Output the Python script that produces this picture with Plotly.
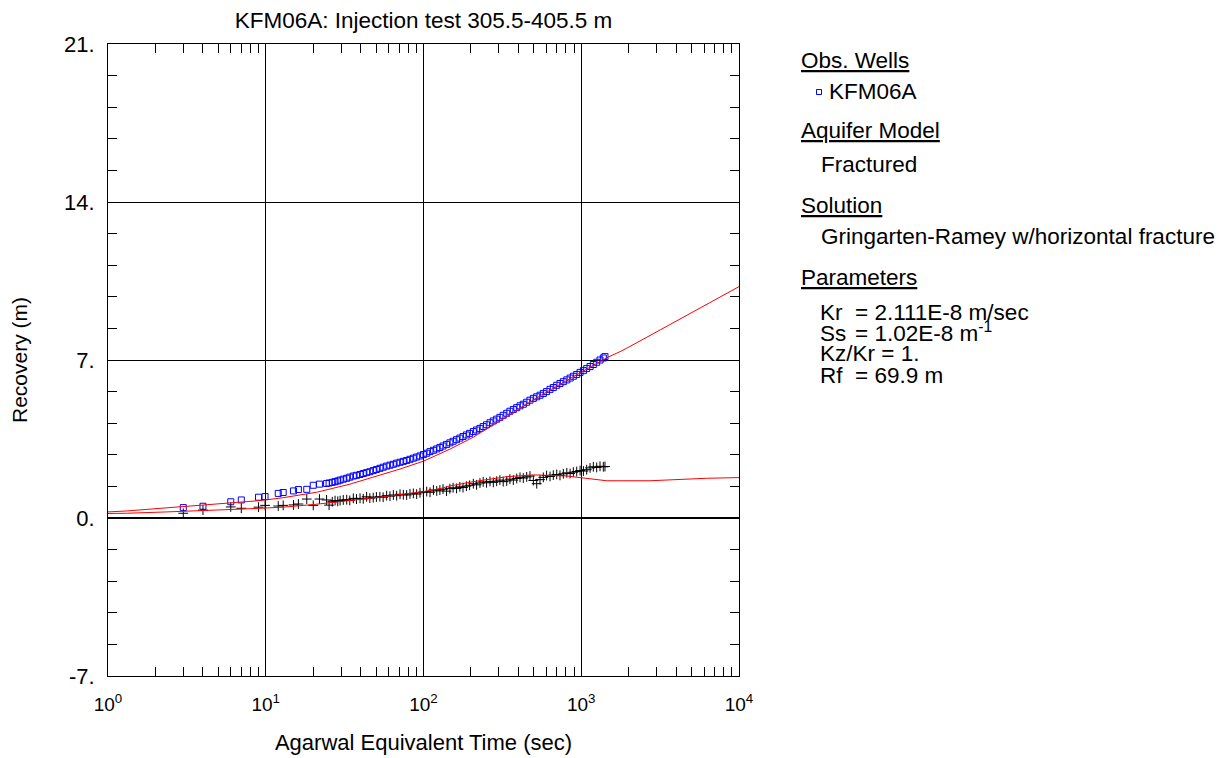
import plotly.graph_objects as go

# ---------------- data ----------------
obs_time = [3.0, 4.0, 6.0, 7.0, 9.0, 9.9, 12.0, 12.9, 15.0, 16.1, 18.2, 20.0, 21.9, 24.3,
            25.2, 26.4, 27.5, 28.6, 29.6, 31.0, 32.6, 34.1, 35.9, 37.6, 39.6, 41.5, 43.6,
            45.7, 48.0, 50.3, 52.9, 55.5, 58.4, 61.3, 64.4, 67.6, 71.0, 74.5, 78.2, 82.1,
            86.2, 90.5, 95.0, 99.8, 104.8, 110.0, 115.6, 121.3, 127, 133, 140, 147, 154,
            162, 170, 178, 187, 196, 207, 217, 228, 239, 251, 264, 277, 291, 305, 320,
            337, 353, 371, 390, 409, 429, 451, 473, 497, 522, 548, 575, 603, 634, 665,
            699, 733, 770, 810, 850, 891, 936, 983, 1032, 1083, 1137, 1193, 1253, 1315,
            1380, 1414]

obs_recovery = [0.46, 0.52, 0.72, 0.80, 0.92, 0.95, 1.09, 1.13, 1.20, 1.26, 1.27, 1.45, 1.50, 1.53,
                1.55, 1.58, 1.61, 1.64, 1.68, 1.72, 1.76, 1.81, 1.86, 1.89, 1.93, 1.97, 2.01,
                2.05, 2.10, 2.15, 2.20, 2.25, 2.30, 2.34, 2.38, 2.43, 2.47, 2.51, 2.55, 2.60,
                2.65, 2.70, 2.75, 2.81, 2.87, 2.94, 3.00, 3.06, 3.12, 3.19, 3.26, 3.33, 3.40,
                3.47, 3.54, 3.61, 3.68, 3.75, 3.83, 3.90, 3.97, 4.05, 4.13, 4.22, 4.30, 4.38,
                4.46, 4.55, 4.64, 4.73, 4.81, 4.89, 4.97, 5.04, 5.13, 5.22, 5.30, 5.37, 5.44,
                5.52, 5.60, 5.70, 5.78, 5.88, 5.96, 6.04, 6.12, 6.20, 6.28, 6.36, 6.45, 6.53,
                6.62, 6.71, 6.80, 6.90, 7.00, 7.09, 7.15]

deriv_recovery = [0.21, 0.35, 0.49, 0.43, 0.48, 0.56, 0.53, 0.56, 0.58, 0.62, 0.84, 0.56, 0.84, 0.80,
                  0.57, 0.72, 0.77, 0.74, 0.77, 0.80, 0.81, 0.78, 0.87, 0.84, 0.87, 0.85, 0.94,
                  0.88, 0.90, 0.93, 0.94, 0.92, 0.99, 0.97, 1.02, 0.99, 1.05, 1.03, 1.02, 1.07,
                  1.09, 1.06, 1.12, 1.15, 1.17, 1.14, 1.24, 1.20, 1.24, 1.28, 1.19, 1.30, 1.34,
                  1.31, 1.38, 1.35, 1.41, 1.45, 1.52, 1.47, 1.55, 1.60, 1.56, 1.62, 1.58, 1.63,
                  1.68, 1.61, 1.64, 1.72, 1.68, 1.75, 1.80, 1.77, 1.82, 1.86, 1.66, 1.52, 1.70,
                  1.80, 1.88, 1.84, 1.90, 1.93, 1.89, 1.96, 2.00, 1.97, 2.03, 2.06, 2.10, 2.08,
                  2.14, 2.22, 2.27, 2.24, 2.29, 2.27, 2.28]

model_time = [1.0, 1.3, 2.36, 3.83, 6.2, 9.2, 12.9, 21, 34.2, 55.6, 71, 100, 127, 147, 207,
              337, 548, 891, 1450, 1762, 1940, 3160, 5400, 10000]
model_recovery = [0.27, 0.31, 0.45, 0.57, 0.68, 0.77, 0.90, 1.14, 1.50, 1.93, 2.17, 2.52, 2.84,
                  3.05, 3.58, 4.50, 5.41, 6.26, 7.10, 7.37, 7.52, 8.33, 9.22, 10.25]

deriv_model_time = [1.0, 1.31, 2.36, 3.83, 6.2, 9.2, 12.9, 21, 34, 55.6, 100, 127, 147, 207, 337,
                    497, 810, 1085, 1450, 1762, 2730, 6240, 10000]
deriv_model_recovery = [0.20, 0.21, 0.27, 0.34, 0.38, 0.43, 0.48, 0.61, 0.77, 0.94, 1.17, 1.30,
                        1.42, 1.61, 1.83, 1.91, 1.86, 1.76, 1.65, 1.65, 1.65, 1.76, 1.79]

x_tick_vals = [1, 10, 100, 1000, 10000]
x_tick_text = ["10<sup>0</sup>", "10<sup>1</sup>", "10<sup>2</sup>", "10<sup>3</sup>", "10<sup>4</sup>"]
y_tick_vals = [-7, 0, 7, 14, 21]
y_tick_text = ["-7.", "0.", "7.", "14.", "21."]

title_text = "KFM06A: Injection test 305.5-405.5 m"
x_title = "Agarwal Equivalent Time (sec)"
y_title = "Recovery (m)"

# ---------------- figure ----------------
FONT = "Liberation Sans, Arial, sans-serif"
fig = go.Figure()

fig.add_trace(go.Scatter(x=obs_time, y=obs_recovery, mode="markers",
                         marker=dict(symbol="square-open", size=6, color="#0000ff",
                                     line=dict(width=1, color="#0000ff")),
                         showlegend=False))
fig.add_trace(go.Scatter(x=obs_time, y=deriv_recovery, mode="markers",
                         marker=dict(symbol="cross-thin", size=7, color="black",
                                     line=dict(width=1, color="black")),
                         showlegend=False))
fig.add_trace(go.Scatter(x=model_time, y=model_recovery, mode="lines",
                         line=dict(color="#ff0000", width=1), showlegend=False))
fig.add_trace(go.Scatter(x=deriv_model_time, y=deriv_model_recovery, mode="lines",
                         line=dict(color="#ff0000", width=1), showlegend=False))

x_minor = [m * 10 ** d for d in range(4) for m in range(2, 10)]
y_minor = [v + k * 1.4 for v in [-7, 0, 7, 14] for k in range(1, 5)]

# page has an 8px body margin: figure placed at (8, 8)
fig.update_layout(
    width=1218, height=750,
    margin=dict(l=100, r=487, t=36, b=82),
    paper_bgcolor="white", plot_bgcolor="white",
    font=dict(family=FONT, size=22, color="black"),
    title=dict(text=title_text, x=(423.5 - 8) / 1218, xanchor="center",
               y=1 - (20 - 8) / 750, yanchor="middle", font=dict(size=22.5)),
    xaxis=dict(type="log", range=[0, 4], tickmode="array", tickvals=x_tick_vals,
               ticktext=x_tick_text, showgrid=True, gridcolor="black", gridwidth=1,
               showline=True, linecolor="black", linewidth=1, mirror="allticks",
               ticks="", tickfont=dict(size=19), ticklabelstandoff=11, automargin=False,
               minor=dict(tickmode="array", tickvals=x_minor, ticks="inside", ticklen=9,
                          tickcolor="black", tickwidth=1, showgrid=False),
               title=dict(text=x_title, font=dict(size=22), standoff=20),
               zeroline=False),
    yaxis=dict(range=[-7, 21], tickmode="array", tickvals=y_tick_vals, ticktext=y_tick_text,
               showgrid=True, gridcolor="black", gridwidth=1, showline=True,
               linecolor="black", linewidth=1, mirror="allticks", ticks="",
               tickfont=dict(size=22), ticklabelstandoff=8, automargin=False,
               minor=dict(tickmode="array", tickvals=y_minor, ticks="inside", ticklen=9,
                          tickcolor="black", tickwidth=1, showgrid=False),
               title=dict(text=y_title, font=dict(size=21), standoff=30),
               zeroline=True, zerolinecolor="black", zerolinewidth=2),
)


def px_x(px):
    return (px - 108) / 631.0


def px_y(py):
    return (676 - py) / 632.0


PANEL_SIZE = 22.5
panel = [
    ("<u>Obs. Wells</u>", 799, 60),
    ("KFM06A", 827, 92),
    ("<u>Aquifer Model</u>", 799, 131),
    ("Fractured", 819, 164),
    ("<u>Solution</u>", 799, 205),
    ("Gringarten-Ramey w/horizontal fracture", 819, 237),
    ("<u>Parameters</u>", 799, 277),
    ("Kr", 818, 312),
    ("= 2.111E-8 m/sec", 853, 312),
    ("Ss", 818, 333),
    ("Kz/Kr = 1.", 818, 354),
    ("Rf", 818, 375),
    ("= 69.9 m", 853, 375),
]
for txt, px, py in panel:
    fig.add_annotation(text=txt, x=px_x(px), y=px_y(py), xref="paper", yref="paper",
                       xanchor="left", yanchor="middle", showarrow=False,
                       font=dict(size=PANEL_SIZE, family=FONT, color="black"))

fig.add_annotation(text="= 1.02E-8 m<sup>-1</sup>", x=px_x(853), y=px_y(332), xref="paper",
                   yref="paper", xanchor="left", yanchor="middle", showarrow=False,
                   font=dict(size=PANEL_SIZE, family=FONT, color="black"))

fig.add_shape(type="rect", xref="paper", yref="paper",
              x0=px_x(816.5), x1=px_x(821.5), y0=px_y(94.5), y1=px_y(89.5),
              line=dict(color="#0000ff", width=1), fillcolor="rgba(0,0,0,0)")

fig.write_html("out.html")
